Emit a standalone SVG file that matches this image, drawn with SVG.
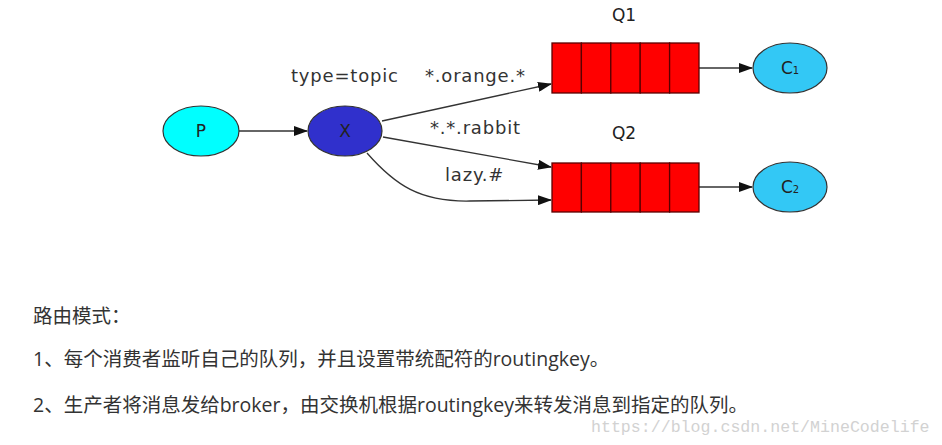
<svg xmlns="http://www.w3.org/2000/svg" width="942" height="445" viewBox="0 0 942 445">
<style>
.lbl{font-family:"DejaVu Sans",sans-serif;font-size:18px;letter-spacing:0.8px;fill:#333}
.ntx{font-family:"DejaVu Sans",sans-serif;font-size:17px;fill:#222;text-anchor:middle}
.edge{fill:none;stroke:#333;stroke-width:1.3}
.cell{fill:#ff0000;stroke:#5a0000;stroke-width:1.3}
.zh{font-family:"Open Sans","Noto Sans CJK SC",sans-serif;font-size:19.5px;fill:#333}
</style>
<defs>
<marker id="ah" markerWidth="14" markerHeight="10" refX="13" refY="5" orient="auto" markerUnits="userSpaceOnUse">
<path d="M0,0 L14,5 L0,10 Z" fill="#111"/>
</marker>
</defs>
<rect width="942" height="445" fill="#fff"/>
<g id="connectors">
<path class="edge" d="M239,131 L307,131" marker-end="url(#ah)"/>
<path class="edge" d="M382,121 L551,84" marker-end="url(#ah)"/>
<path class="edge" d="M383,137 L551,167" marker-end="url(#ah)"/>
<path class="edge" d="M367,153 C395,185 420,202 470,201 L551,200" marker-end="url(#ah)"/>
<path class="edge" d="M699,68 L752,68" marker-end="url(#ah)"/>
<path class="edge" d="M699,187 L752,187" marker-end="url(#ah)"/>
</g>
<g id="labels">
<text class="lbl" x="291" y="82">type=topic</text>
<text class="lbl" x="425" y="82">*.orange.*</text>
<text class="lbl" x="430" y="134">*.*.rabbit</text>
<text class="lbl" x="445" y="181">lazy.#</text>
</g>
<g id="P">
<ellipse cx="201" cy="131" rx="38" ry="25" fill="#00ffff" stroke="#333" stroke-width="1.2"/>
<text class="ntx" x="201" y="137">P</text>
</g>
<g id="X">
<ellipse cx="345" cy="131" rx="37" ry="25" fill="#3030cc" stroke="#333" stroke-width="1.2"/>
<text class="ntx" x="345" y="137" fill="#111">X</text>
</g>
<g id="Q1">
<text class="ntx" x="624" y="21">Q1</text>
<rect class="cell" x="552" y="43" width="29.4" height="50"/>
<rect class="cell" x="581.4" y="43" width="29.4" height="50"/>
<rect class="cell" x="610.8" y="43" width="29.4" height="50"/>
<rect class="cell" x="640.2" y="43" width="29.4" height="50"/>
<rect class="cell" x="669.6" y="43" width="29.4" height="50"/>
</g>
<g id="Q2">
<text class="ntx" x="624" y="139">Q2</text>
<rect class="cell" x="552" y="163" width="29.4" height="49"/>
<rect class="cell" x="581.4" y="163" width="29.4" height="49"/>
<rect class="cell" x="610.8" y="163" width="29.4" height="49"/>
<rect class="cell" x="640.2" y="163" width="29.4" height="49"/>
<rect class="cell" x="669.6" y="163" width="29.4" height="49"/>
</g>
<g id="C1">
<ellipse cx="790" cy="68" rx="37" ry="25" fill="#33c8f5" stroke="#333" stroke-width="1.2"/>
<text class="ntx" x="790" y="74">C<tspan font-size="10">1</tspan></text>
</g>
<g id="C2">
<ellipse cx="790" cy="187" rx="37" ry="25" fill="#33c8f5" stroke="#333" stroke-width="1.2"/>
<text class="ntx" x="790" y="193">C<tspan font-size="10">2</tspan></text>
</g>
<g id="text">
<text class="zh" x="33" y="323">路由模式：</text>
<text class="zh" x="33" y="366">1、每个消费者监听自己的队列，并且设置带统配符的routingkey。</text>
<text class="zh" x="33" y="412">2、生产者将消息发给broker，由交换机根据routingkey来转发消息到指定的队列。</text>
<text x="591" y="432" font-family="Liberation Mono,monospace" font-size="16.6" fill="#d2d2d2">https://blog.csdn.net/MineCodelife</text>
</g>
</svg>
